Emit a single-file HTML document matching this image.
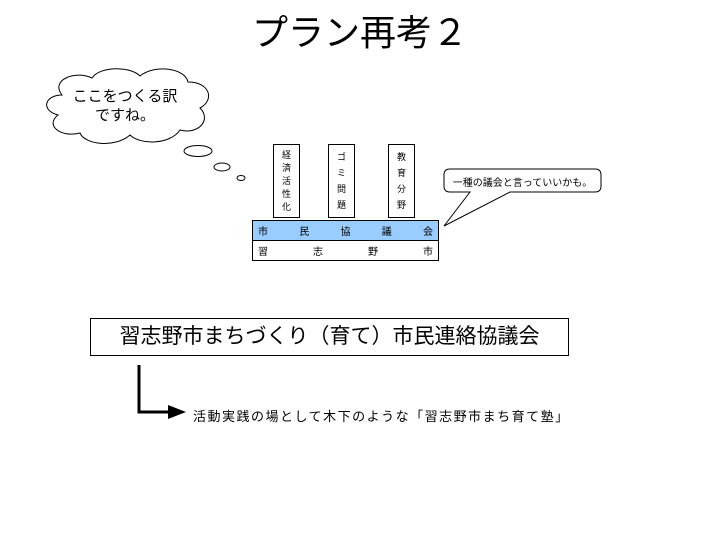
<!DOCTYPE html>
<html><head><meta charset="utf-8"><style>
body{margin:0;width:720px;height:540px;background:#fff;position:relative;overflow:hidden;font-family:"Liberation Sans","Noto Sans CJK JP",sans-serif;color:#000}
.a{position:absolute;white-space:nowrap}
.v{position:absolute;border:1px solid #000;background:#fff;font-size:9px;text-align:center;box-sizing:border-box;padding-top:4px}
</style></head><body>
<div class="a" style="left:0;width:720px;top:10px;text-align:center;font-size:36px;line-height:46px">プラン再考２</div>

<svg class="a" style="left:0;top:0" width="720" height="540">
<path d="M62,95 C50,80 75,70 92,78 C100,66 130,66 140,76 C155,64 185,68 188,82 C210,82 215,100 200,108 C212,120 198,135 180,130 C170,145 140,145 130,135 C115,148 85,145 80,133 C60,138 45,125 58,115 C40,110 45,95 62,95 Z" fill="#fff" stroke="#000" stroke-width="1"/>
<ellipse cx="198" cy="151" rx="14" ry="5.5" fill="#fff" stroke="#000"/>
<ellipse cx="222" cy="167" rx="8" ry="4" fill="#fff" stroke="#000"/>
<ellipse cx="241" cy="178" rx="4" ry="2.5" fill="#fff" stroke="#000"/>
<path d="M450,169 L595,169 Q601,169 601,175 L601,186 Q601,192 595,192 L510,192 L444,226 L470,192 L450,192 Q444,192 444,186 L444,175 Q444,169 450,169 Z" fill="#fff" stroke="#000"/>
<rect x="252.5" y="220.5" width="186" height="20" fill="#99ccff" stroke="#000"/>
<rect x="252.5" y="240.5" width="186" height="20" fill="#fff" stroke="#000"/>
<rect x="90.5" y="318.5" width="478" height="37" fill="#fff" stroke="#000"/>
<path d="M139,365 L139,412 L170,412" fill="none" stroke="#000" stroke-width="3"/>
<path d="M168,405 L186,412 L168,419 Z" fill="#000"/>
</svg>

<div class="a" style="left:60px;top:87px;width:130px;text-align:center;font-size:15px;line-height:19px">ここをつくる訳<br>ですね。</div>
<div class="v" style="left:273px;top:144px;width:27px;height:74px;line-height:13px">経<br>済<br>活<br>性<br>化</div>
<div class="v" style="left:328px;top:144px;width:27px;height:74px;line-height:16px">ゴ<br>ミ<br>問<br>題</div>
<div class="v" style="left:388px;top:144px;width:27px;height:74px;line-height:16px">教<br>育<br>分<br>野</div>
<div class="a" style="left:444px;width:157px;top:174px;text-align:center;font-size:10px">一種の議会と言っていいかも。</div>
<div class="a" style="left:258px;width:175px;top:223px;font-size:10px;display:flex;justify-content:space-between"><span>市</span><span>民</span><span>協</span><span>議</span><span>会</span></div>
<div class="a" style="left:258px;width:175px;top:243px;font-size:10px;display:flex;justify-content:space-between"><span>習</span><span>志</span><span>野</span><span>市</span></div>
<div class="a" style="left:90px;width:479px;top:323px;text-align:center;font-size:21px;line-height:28px">習志野市まちづくり（育て）市民連絡協議会</div>
<div class="a" style="left:193px;top:408px;font-size:13px;line-height:17px;letter-spacing:1.5px">活動実践の場として木下のような「習志野市まち育て塾」</div>
</body></html>
